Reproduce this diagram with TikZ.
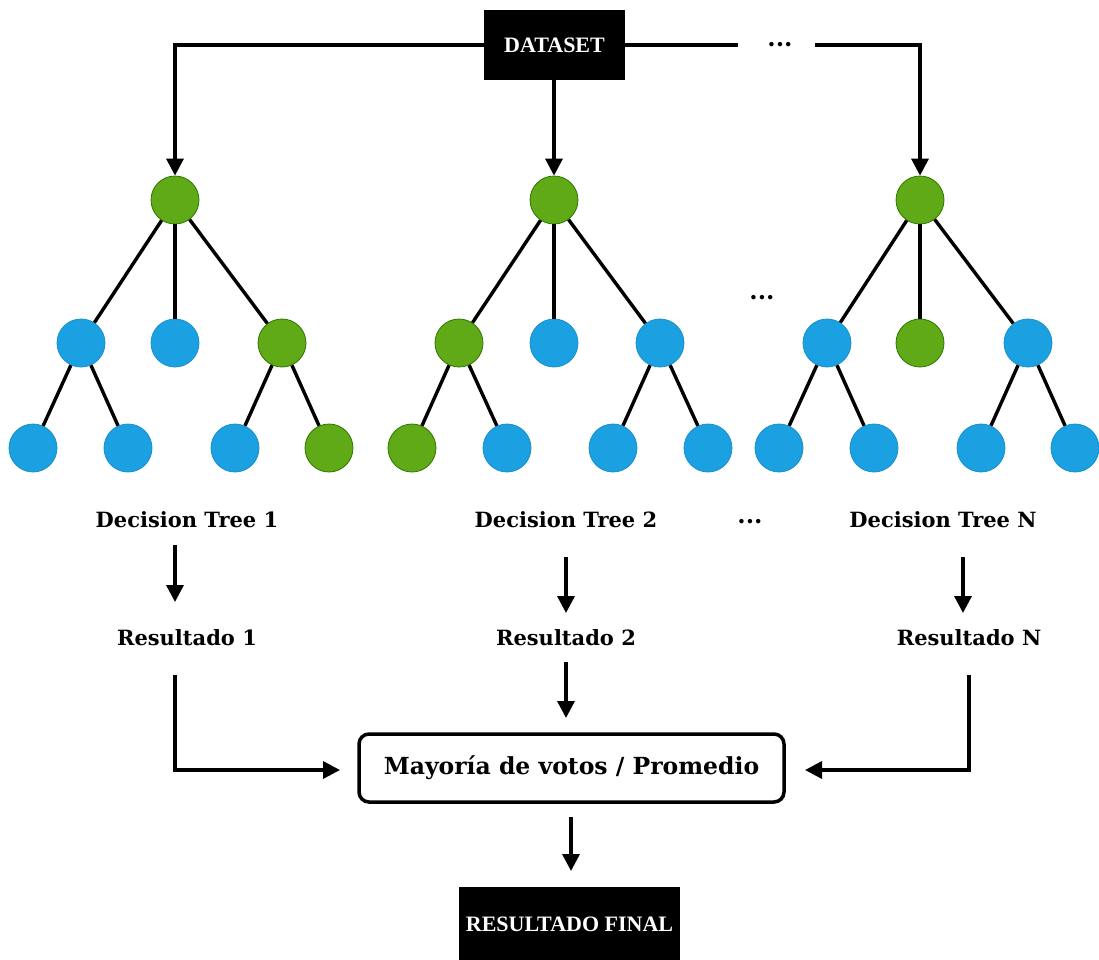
\documentclass[tikz,border=0pt]{standalone}
\usepackage{fontspec}
\setmainfont{DejaVu Serif}
\newfontfamily\boxfont{Liberation Serif}
\usetikzlibrary{arrows.meta}
\definecolor{tgreen}{HTML}{60A917}
\definecolor{tgreenb}{HTML}{2D7600}
\definecolor{tblue}{HTML}{1BA1E2}
\definecolor{tblueb}{HTML}{1A8FC9}
\tikzset{
  g/.style={circle,fill=tgreen,draw=tgreenb,line width=0.8pt,minimum size=48pt,inner sep=0pt},
  b/.style={circle,fill=tblue,draw=tblueb,line width=0.8pt,minimum size=48pt,inner sep=0pt},
  edge/.style={line width=3.4pt},
  conn/.style={line width=3.4pt,-{Triangle[width=17pt,length=17pt]}},
  lbl/.style={font=\fontsize{21}{23}\selectfont\bfseries,inner sep=0pt},
  dots/.style={font=\fontsize{24}{26}\selectfont\bfseries,inner sep=0pt},
  blackbox/.style={fill=black,text=white,font=\boxfont\fontsize{22}{24}\selectfont\bfseries,inner sep=0pt}
}
\begin{document}
\begin{tikzpicture}[x=1pt,y=-1pt]
\useasboundingbox (0,0) rectangle (1099,959);
% DATASET
\node[blackbox,minimum width=141pt,minimum height=70pt] (ds) at (554.5,45) {DATASET};
\node[dots] (dtop) at (780,45) {...};
\coordinate (c1) at (175,45);
\coordinate (c3a) at (738,45);
\coordinate (c3b) at (815,45);
\coordinate (c3) at (920,45);
% tree 1
\node[g] (r1) at (175,200) {};
\node[b] (a1) at (81,343) {};
\node[b] (a2) at (175,343) {};
\node[g] (a3) at (282,343) {};
\node[b] (l1) at (33,448) {};
\node[b] (l2) at (128,448) {};
\node[b] (l3) at (235,448) {};
\node[g] (l4) at (329,448) {};
% tree 2
\node[g] (r2) at (554,200) {};
\node[g] (b1) at (459,343) {};
\node[b] (b2) at (554,343) {};
\node[b] (b3) at (660,343) {};
\node[g] (m1) at (412,448) {};
\node[b] (m2) at (507,448) {};
\node[b] (m3) at (613,448) {};
\node[b] (m4) at (708,448) {};
% tree 3
\node[g] (r3) at (920,200) {};
\node[b] (c1n) at (827,343) {};
\node[g] (c2n) at (920,343) {};
\node[b] (c3n) at (1028,343) {};
\node[b] (n1) at (779,448) {};
\node[b] (n2) at (874,448) {};
\node[b] (n3) at (981,448) {};
\node[b] (n4) at (1075,448) {};
\node[dots] (dmid) at (762,298) {...};
% edges
\foreach \p/\c in {r1/a1,r1/a2,r1/a3,a1/l1,a1/l2,a3/l3,a3/l4,
                   r2/b1,r2/b2,r2/b3,b1/m1,b1/m2,b3/m3,b3/m4,
                   r3/c1n,r3/c2n,r3/c3n,c1n/n1,c1n/n2,c3n/n3,c3n/n4}
  \draw[edge] (\p) -- (\c);
% connectors from dataset
\draw[conn] (ds.west) -- (c1) -- (r1.north);
\draw[conn] (r2.north |- ds.south) -- (r2.north);
\draw[edge] (ds.east) -- (c3a);
\draw[conn] (c3b) -- (c3) -- (r3.north);
% labels
\node[lbl] (t1) at (187,520) {Decision Tree 1};
\node[lbl] (t2) at (566,520) {Decision Tree 2};
\node[lbl] (t3) at (943,520) {Decision Tree N};
\node[dots] (dlab) at (750,522) {...};
\node[lbl] (s1) at (187,638) {Resultado 1};
\node[lbl] (s2) at (566,638) {Resultado 2};
\node[lbl] (s3) at (969,638) {Resultado N};
\coordinate (t1a) at (175,545); \coordinate (t1b) at (175,602);
\coordinate (t2a) at (566,557); \coordinate (t2b) at (566,613);
\coordinate (t3a) at (963,557); \coordinate (t3b) at (963,613);
\draw[conn] (t1a) -- (t1b);
\draw[conn] (t2a) -- (t2b);
\draw[conn] (t3a) -- (t3b);
% aggregation
\node[draw,line width=3.5pt,rounded corners=10pt,minimum width=425pt,minimum height=68pt,fill=white,font=\fontsize{23.5}{25}\selectfont\bfseries] (agg) at (571.5,768) {Mayoría de votos / Promedio};
\coordinate (s1a) at (175,675); \coordinate (s1b) at (175,770);
\coordinate (s3a) at (969,675); \coordinate (s3b) at (969,770);
\coordinate (s2a) at (566,662);
\draw[conn] (s1a) -- (s1b) -- (340,770);
\draw[conn] (s2a) -- (566,718);
\draw[conn] (s3a) -- (s3b) -- (805,770);
\node[blackbox,minimum width=221pt,minimum height=74pt] (fin) at (569.5,924) {RESULTADO FINAL};
\coordinate (ga) at (571,817);
\draw[conn] (ga) -- (571,871);
\end{tikzpicture}
\end{document}
